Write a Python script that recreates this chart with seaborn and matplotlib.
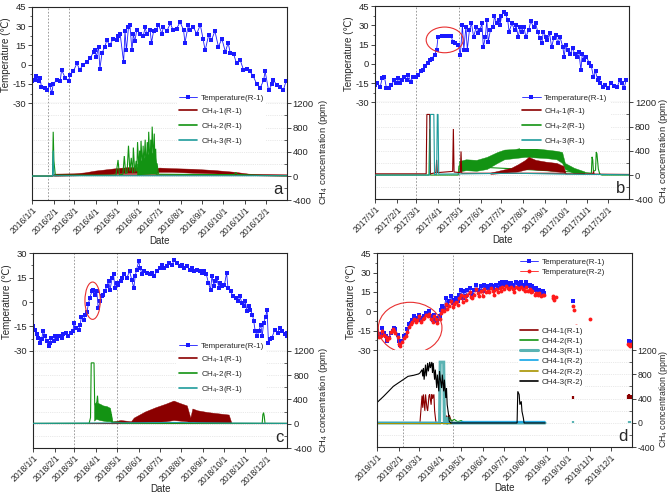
import numpy as np
import pandas as pd
import matplotlib
matplotlib.use('Agg')
import matplotlib.pyplot as plt
import matplotlib.dates as mdates
from matplotlib.lines import Line2D
from matplotlib.patches import Ellipse
from matplotlib.ticker import MultipleLocator, FuncFormatter
import seaborn as sns

# values: (day of year, value) or (day, low, high) for dense bands

# --- panel a, 2016 ---
a_temp = [(0, -13), (4, -12), (6, -9), (9, -13), (11, -10), (13, -17), (18, -18), (21, -20), (25, -16), (28, -22),
          (30, -15), (35, -12), (40, -13), (42, -4), (47, -10), (52, -13), (54, -8), (59, -5), (64, 1), (68, -4),
          (73, 0), (78, 2), (83, 5), (88, 10), (90, 11), (92, 6), (95, 14), (97, -3), (100, 9), (104, 14),
          (107, 19), (111, 15), (116, 20), (121, 19), (123, 22), (126, 24), (131, 2), (133, 26), (135, 11), (138, 29),
          (140, 31), (143, 11), (145, 24), (147, 18), (150, 27), (155, 24), (159, 22), (162, 29), (164, 24), (169, 27),
          (171, 17), (174, 26), (178, 27), (181, 31), (186, 24), (188, 29), (193, 26), (198, 32), (202, 27), (207, 28),
          (212, 33), (217, 27), (219, 17), (224, 31), (226, 27), (231, 29), (236, 24), (241, 31), (245, 20), (248, 11),
          (253, 23), (257, 19), (262, 26), (267, 14), (272, 20), (277, 10), (281, 17), (284, 9), (289, 8), (293, 1),
          (298, 4), (303, -4), (308, -3), (312, -5), (317, -9), (322, -15), (327, -18), (332, -12), (334, -5), (339, -20),
          (344, -15), (346, -12), (351, -16), (356, -17), (360, -20), (364, -13)]
a_ch4_1 = [(0, 0), (30, 0), (31, 20), (365, 15)]
a_ch4_1_band = [(31, 5, 40), (60, 10, 45), (75, 15, 60), (90, 25, 90), (105, 35, 110), (120, 45, 130), (140, 50, 150),
                (160, 50, 140), (178, 50, 130), (182, 70, 140), (200, 70, 130), (230, 55, 120), (260, 45, 100),
                (290, 30, 70), (310, 15, 40), (330, 10, 30), (365, 5, 25)]
a_ch4_2 = [(0, 0), (29, 0), (30, 730), (31, 250), (33, 15), (120, 15), (123, 265), (125, 20), (130, 30), (132, 330),
           (134, 40), (136, 60), (138, 500), (140, 80), (142, 300), (144, 50), (145, 470), (147, 60), (149, 250),
           (150, 80), (151, 560), (153, 100), (154, 420), (155, 120), (156, 580), (158, 90), (159, 500), (160, 150),
           (162, 600), (163, 100), (165, 560), (166, 120), (167, 730), (169, 150), (170, 600), (171, 180), (172, 815),
           (174, 200), (175, 700), (176, 150), (177, 450), (178, 80), (179, 210), (181, 30), (250, 25), (290, 25),
           (292, 60), (294, 25), (330, 10), (365, 5)]
a_ch4_2_band = [(150, 20, 200), (160, 30, 300), (170, 40, 400), (176, 40, 350), (179, 20, 80)]
a_ch4_3 = [(0, 0), (29, 0), (30, 420), (31, 0), (33, 5), (365, 5)]

# --- panel b, 2017 ---
b_temp = [(0, -16.5), (3, -15), (7, -18), (10, -11), (13, -10), (16, -19), (20, -19), (23, -16.5), (27, -12.6), (30, -15),
          (33, -11), (35, -15), (38, -12.6), (41, -10), (45, -12.6), (47, -8.7), (51, -14), (54, -10), (58, -10.5),
          (61, -8.7), (65, -6), (69, -5), (71, -2), (75, 0.4), (78, 3), (81, 4), (85, 7), (88, 11), (90, 21),
          (95, 21.6), (100, 22), (104, 21.6), (109, 22), (111, 17), (115, 16), (119, 15), (122, 7), (125, 30), (127, 11),
          (130, 29), (132, 11), (135, 26), (138, 31.5), (141, 21), (145, 29), (147, 24), (150, 26), (153, 31.5),
          (155, 13), (158, 21), (160, 34), (162, 17), (165, 26), (169, 29), (171, 37), (174, 31.5), (177, 34), (179, 30),
          (181, 37), (184, 40.6), (187, 39), (190, 34), (192, 25), (196, 31.5), (200, 26), (202, 30), (205, 21),
          (208, 29), (210, 25), (213, 29), (216, 21), (220, 26), (223, 33), (227, 29), (230, 31.5), (233, 25), (236, 20),
          (239, 16), (241, 25), (245, 21), (247, 18.5), (250, 23.7), (253, 13), (256, 20), (259, 22.4), (262, 16),
          (265, 21), (269, 13), (271, 5.5), (273, 14.6), (276, 11), (280, 8), (283, 12), (286, 8), (289, 5.5),
          (292, 9.4), (295, -5), (297, 8), (300, 3), (303, 5.5), (307, 0.4), (310, -2), (313, -10), (316, -6),
          (319, -12.6), (321, -11), (323, -15), (327, -18), (330, -16.5), (334, -19), (338, -15), (342, -17),
          (347, -18), (351, -12.6), (354, -15), (357, -19), (360, -12.6)]
b_ch4_1 = [(0, 20), (73, 20), (74, 1000), (78, 1000), (79, 20), (87, 40), (88, 250), (89, 40), (111, 60), (112, 760),
           (113, 50), (122, 40), (123, 390), (124, 30), (165, 30), (273, 30), (274, 20), (312, 20), (313, 60),
           (314, 15), (365, 10)]
b_ch4_1_band = [(165, 20, 40), (180, 30, 80), (195, 50, 120), (205, 60, 180), (215, 90, 250), (220, 100, 300),
                (230, 90, 250), (245, 80, 220), (260, 60, 200), (270, 50, 150), (273, 20, 30)]
b_ch4_2 = [(0, 0), (77, 0), (78, 760), (79, 0), (119, 0), (120, 150), (300, 40), (310, 30), (311, 300), (312, 250),
           (313, 60), (316, 80), (317, 380), (318, 350), (320, 100), (322, 20), (325, 0), (365, 0)]
b_ch4_2_band = [(120, 60, 230), (130, 80, 260), (145, 70, 250), (160, 100, 300), (175, 200, 380), (185, 260, 420),
                (200, 280, 430), (215, 300, 460), (230, 290, 440), (245, 280, 420), (260, 260, 400), (268, 200, 380),
                (272, 100, 200), (285, 30, 120), (300, 20, 60)]
b_ch4_3 = [(0, 0), (78, 0), (79, 1000), (84, 1000), (85, 10), (88, 10), (89, 1000), (90, 1000), (91, 15), (200, 30),
           (270, 15), (365, 5)]

# --- panel c, 2018 ---
c_temp = [(0, -15), (2, -17), (5, -20), (7, -22), (10, -25), (12, -23), (14, -18), (17, -21), (19, -24), (22, -27),
          (24, -25), (26, -22), (29, -24), (31, -21), (34, -23), (37, -21), (41, -22), (43, -20), (47, -19), (50, -21),
          (54, -19), (57, -18), (58, -13), (61, -16), (65, -17), (67, -14), (69, -9), (72, -11), (74, -8), (77, -6),
          (79, -1), (81, 2.5), (84, 6.6), (86, 7.6), (89, 4.5), (91, 6.6), (93, -3.7), (96, 0.4), (98, 3.5), (100, 4.5),
          (103, 6.6), (105, 9.7), (108, 12.7), (110, 7.6), (113, 14.8), (115, 17), (117, 8.6), (120, 11.7), (122, 10.7),
          (125, 12.7), (127, 14.8), (130, 17), (134, 14.8), (138, 19), (141, 13.8), (144, 8.6), (146, 15.8), (148, 20),
          (151, 25), (153, 21), (156, 17), (159, 19), (163, 18), (167, 17), (170, 18), (173, 15.8), (177, 19), (181, 21),
          (184, 23), (188, 21), (192, 22), (195, 24), (199, 23), (202, 26), (206, 24), (210, 22), (213, 23), (216, 21),
          (220, 22), (224, 20), (227, 21), (231, 19), (235, 20), (239, 19), (242, 18), (245, 19), (248, 17),
          (251, 11.7), (254, 7.6), (256, 15.8), (259, 9.7), (261, 12.7), (263, 14.8), (266, 8.6), (268, 11.7),
          (271, 9.7), (274, 10.7), (277, 18), (279, 8.6), (283, 6.6), (286, 3.5), (290, 2.5), (293, 0.4), (296, 3.5),
          (299, -0.6), (302, -2.7), (304, 0.4), (306, -5.8), (309, -2.7), (311, -4.7), (314, -7.8), (316, -12),
          (318, -18), (321, -21), (323, -18), (326, -14), (328, -21), (330, -13), (333, -9), (335, -4.7), (337, -25),
          (339, -23), (342, -22), (346, -17), (350, -19), (353, -16), (357, -18), (360, -20), (363, -19), (364, -21)]
c_ch4_1 = [(0, 5), (365, 5)]
c_ch4_1_band = [(112, 5, 30), (125, 10, 60), (140, 10, 40), (144, 10, 100), (160, 20, 200), (175, 30, 270),
                (190, 40, 330), (201, 60, 380), (210, 50, 340), (220, 40, 300), (225, 20, 100), (228, 30, 250),
                (235, 20, 220), (250, 20, 190), (265, 20, 170), (280, 15, 150), (284, 5, 10)]
c_ch4_2 = [(0, 5), (80, 5), (82, 100), (83, 1000), (87, 1000), (88, 300), (91, 350), (92, 460), (93, 300), (112, 150),
           (113, 30), (125, 20), (126, 5), (328, 5), (329, 150), (330, 180), (331, 120), (332, 5), (365, 5)]
c_ch4_2_band = [(87, 50, 300), (90, 80, 350), (95, 60, 330), (100, 50, 300), (105, 40, 290), (110, 40, 260),
                (113, 20, 50)]
c_ch4_3 = [(0, 5), (150, 15), (200, 20), (280, 10), (365, 5)]

# --- panel d, 2019 ---
d_temp_r1 = [(0, -15.5), (2, -19), (5, -17.6), (7, -13), (10, -17), (12, -19), (14, -23), (17, -20.7), (19, -17),
             (22, -15.5), (24, -13), (26, -14), (29, -18), (31, -23), (33, -26), (36, -23), (38, -19), (41, -18),
             (43, -14), (45, -10), (48, -9), (50, -6.5), (53, -4), (55, -6.5), (57, -5), (60, -2.6), (62, -6.5),
             (65, -5), (67, -4), (69, -1.3), (72, -2.6), (74, 0), (77, -4), (79, -6.5), (81, -2.6), (84, -5), (86, -7.8),
             (89, -4), (91, 1.3), (93, 3.9), (96, 2.6), (98, 10), (100, 5), (103, 7.8), (105, 11.6), (108, 6.5),
             (110, 9), (112, 10), (115, 7.8), (117, 13), (120, 16.8), (122, 10), (124, 15.5), (127, 11.6), (129, 16.8),
             (132, 18), (134, 14), (136, 13), (139, 16.8), (141, 20.7), (144, 16.8), (146, 15.5), (148, 19.4),
             (151, 15.5), (153, 20.7), (156, 18), (158, 19.4), (160, 18), (163, 20.7), (165, 19.4), (167, 16.8),
             (170, 20.7), (172, 18), (175, 22), (177, 19.4), (179, 23), (182, 20.7), (184, 23), (187, 22), (189, 20.7),
             (191, 22), (194, 20.7), (196, 18), (199, 23), (201, 22), (203, 20.7), (206, 23), (208, 20.7), (211, 19.4),
             (213, 23), (215, 19.4), (218, 20.7), (220, 18), (222, 19.4), (225, 16.8), (227, 18), (230, 15.5),
             (232, 16.8), (234, 14), (237, 15.5), (239, 14)]
d_temp_r2 = [(0, -17), (2, -20), (5, -19), (7, -15), (10, -18), (12, -20), (14, -22), (17, -21), (19, -16), (22, -14),
             (24, -15), (26, -17), (29, -20), (31, -25), (33, -27), (36, -24), (38, -21), (41, -19), (43, -16),
             (45, -12), (48, -10), (50, -8), (53, -6), (55, -8), (57, -7), (60, -4), (62, -8), (65, -6), (67, -5),
             (69, -3), (72, -4), (74, -2), (77, -6), (79, -8), (81, -4), (84, -6), (86, -9), (89, -6), (91, -1), (93, 1),
             (96, 0), (98, 6), (100, 2), (103, 4), (105, 8), (108, 3), (110, 6), (112, 7), (115, 5), (117, 10),
             (120, 13), (122, 7), (124, 12), (127, 9), (129, 13), (132, 15), (134, 11), (136, 10), (139, 13), (141, 17),
             (144, 14), (146, 12), (148, 16), (151, 12), (153, 17), (156, 15), (158, 16), (160, 15), (163, 18),
             (165, 16), (167, 13), (170, 17), (172, 15), (175, 18), (177, 16), (179, 19), (182, 17), (184, 20),
             (187, 18), (189, 17), (191, 19), (194, 17), (196, 15), (199, 19), (201, 18), (203, 17), (206, 19),
             (208, 17), (211, 16), (213, 19), (215, 16), (218, 17), (220, 15), (222, 16), (225, 13), (227, 14),
             (230, 13), (232, 14), (234, 12), (237, 13), (239, 13)]
d_temp_r1_sparse = [(280, 8), (360, -23), (362, -24)]
d_temp_r2_sparse = [(251, 12), (252, 10), (253, 9), (255, 11), (280, 4), (281, 1), (284, -11), (304, -6),
                    (359, -25), (360, -26), (361, -27), (363, -25)]
d_ch4_1_r1 = [(0, 0), (61, 0), (63, 300), (64, 450), (65, 250), (66, 470), (68, 200), (69, 470), (71, 250), (72, 200),
              (74, 450), (75, 470), (77, 300), (78, 470), (79, 400), (81, 470), (82, 200), (84, 0), (97, 0), (99, 120),
              (101, 80), (103, 130), (105, 60), (108, 0), (240, 0)]
d_ch4_1_r1_iso = [(280, 400, 450), (359, 400, 460), (360, 390, 470), (361, 410, 450), (362, 400, 465),
                  (363, 395, 455), (364, 405, 440)]
d_ch4_2_r1 = [(0, 0), (96, 0), (98, 100), (100, 40), (103, 90), (106, 30), (110, 60), (115, 20), (120, 40), (125, 0),
              (240, 0)]
d_ch4_3_r1 = [(0, 0), (89, 0), (90, 1000), (95, 1000), (96, 0), (99, 0), (100, 100), (101, 0), (240, 0)]
d_ch4_3_r1_iso = [(280, 0, 25), (360, 0, 25), (362, 0, 25)]
d_ch4_1_r2 = [(0, 0), (118, 0), (120, 15), (240, 15)]
d_ch4_1_r2_band = [(120, 5, 28), (240, 5, 28)]
d_ch4_2_r2 = [(0, 0), (105, 0)]
d_ch4_3_r2 = [(0, 340), (9, 438), (16, 520), (23, 603), (30, 658), (37, 712), (44, 767), (52, 784), (59, 806),
              (61, 822), (64, 877), (65, 767), (66, 904), (67, 712), (69, 959), (70, 767), (72, 986), (73, 849),
              (75, 1003), (76, 904), (78, 1003), (79, 822), (80, 986), (82, 712), (83, 877), (85, 575), (86, 795),
              (88, 520), (89, 849), (90, 740), (92, 575), (93, 795), (95, 520), (96, 712), (98, 411), (99, 575),
              (100, 301), (102, 137), (103, 28), (105, 0), (200, 0), (201, 520), (203, 466), (204, 301), (206, 356),
              (207, 192), (209, 82), (210, 0), (240, 0)]

sns.set_theme(style='ticks')
plt.rcParams['font.family'] = ['Liberation Sans', 'DejaVu Sans']
plt.rcParams['mathtext.default'] = 'regular'
plt.rcParams['axes.unicode_minus'] = False
plt.rcParams['axes.linewidth'] = 0.8

W, H = 670, 496
RED, GREEN, TEAL = '#8b0000', '#139313', '#1f9c9c'
BLUE_T, RED_T = '#1a1aff', '#ff1a1a'

fig = plt.figure(figsize=(W / 100, H / 100), dpi=100)


def dates(year, days):
    return pd.Timestamp(f'{year}-01-01') + pd.to_timedelta(np.asarray(days, dtype=float), unit='D')


def rect(l, t, r, b):
    return [l / W, 1 - b / H, (r - l) / W, (b - t) / H]


def fmt_date(v, pos):
    d = mdates.num2date(v)
    return f'{d.year}/{d.month}/{d.day}'


def temp_line(ax, year, pairs, color, marker):
    df = pd.DataFrame(pairs, columns=['day', 'temp'])
    df['date'] = dates(year, df['day'])
    sns.lineplot(data=df, x='date', y='temp', ax=ax, color=color, lw=0.6, marker=marker, markersize=2.8,
                 markeredgewidth=0, estimator=None, sort=False, legend=False)


def line(ax, year, pairs, color, lw=0.8, z=2):
    d, v = zip(*pairs)
    ax.plot(dates(year, d), v, color=color, lw=lw, zorder=z, solid_joinstyle='miter')


def band(ax, year, triples, color, z=2, alpha=1.0):
    d, lo, hi = zip(*triples)
    ax.fill_between(dates(year, d), lo, hi, color=color, lw=0.3, zorder=z, alpha=alpha)


def panel(box, year, t_lim, t_step, marks, letter, rsize=6.8):
    l, t, m, r, b = box
    ax_t = fig.add_axes(rect(l, t, r, m))
    ax_c = fig.add_axes(rect(l, m, r, b), sharex=ax_t)
    ax_c.set_xlim(pd.Timestamp(f'{year}-01-01'), pd.Timestamp(f'{year}-12-31'))

    ax_t.set_ylim(*t_lim)
    ax_t.yaxis.set_major_locator(MultipleLocator(t_step))
    ax_t.yaxis.set_minor_locator(MultipleLocator(t_step / 2))
    ax_t.tick_params(axis='y', which='major', direction='out', length=3, width=0.6, labelsize=6.8, pad=1.5)
    ax_t.tick_params(axis='y', which='minor', direction='out', length=1.5, width=0.5)
    ax_t.tick_params(axis='x', which='both', bottom=False, labelbottom=False)
    ax_t.spines['bottom'].set_color('#999999')
    ax_c.spines['top'].set_visible(False)

    ax_c.yaxis.tick_right()
    ax_c.yaxis.set_label_position('right')
    ax_c.set_ylim(-400, 1200)
    ax_c.yaxis.set_major_locator(MultipleLocator(400))
    ax_c.yaxis.set_minor_locator(MultipleLocator(200))
    ax_c.tick_params(axis='y', which='major', direction='out', length=3, width=0.6, labelsize=rsize, pad=1.2)
    ax_c.tick_params(axis='y', which='minor', direction='in', length=2, width=0.5)
    ax_c.grid(axis='y', which='both', color='#d4d4d4', ls=':', lw=0.5)
    ax_c.xaxis.set_major_locator(mdates.MonthLocator())
    ax_c.xaxis.set_major_formatter(FuncFormatter(fmt_date))
    ax_c.tick_params(axis='x', direction='out', length=3, width=0.6, labelsize=6.2, pad=1)
    plt.setp(ax_c.get_xticklabels(), rotation=45, ha='right', rotation_mode='anchor')

    for d in marks:
        for ax in (ax_t, ax_c):
            ax.axvline(dates(year, [d])[0], color='#8c8c8c', ls=(0, (2, 2)), lw=0.6, zorder=1)
    ax_c.text(0.985, 0.03, letter, transform=ax_c.transAxes, ha='right', va='bottom', fontsize=12)
    return ax_t, ax_c


def labels(ax_t, ax_c, right_x=1.118, right_size=6.8):
    ax_t.set_xlabel('')
    ax_t.set_ylabel('Temperature (℃)', fontsize=7)
    ax_t.yaxis.set_label_coords(-0.085, 0.5)
    ax_c.set_ylabel('CH$_4$ concentration (ppm)', fontsize=right_size)
    ax_c.yaxis.set_label_coords(right_x, 0.5)
    ax_c.set_xlabel('Date', fontsize=7)
    ax_c.xaxis.set_label_coords(0.5, -0.37)


def ellipse(ax, year, day, temp, w, h):
    cx = mdates.date2num(dates(year, [day])[0])
    ax.add_patch(Ellipse((cx, temp), w, h, fill=False, edgecolor='#e83030', lw=0.8, zorder=5, clip_on=False))


def put_legend(handles, labs, x, y, spacing):
    fig.legend(handles, labs, loc='upper left', bbox_to_anchor=(x, y), frameon=True, facecolor='white',
               edgecolor='none', framealpha=1, fancybox=False, fontsize=5.8, handlelength=2.3, handletextpad=0.45,
               labelspacing=spacing, borderpad=0.25, borderaxespad=0)


temp_handle = Line2D([], [], color=BLUE_T, lw=0.6, marker='s', ms=2.8, mew=0)
sub_labels = ['Temperature(R-1)', 'CH$_4$-1(R-1)', 'CH$_4$-2(R-1)', 'CH$_4$-3(R-1)']
sub_handles = [temp_handle, Line2D([], [], color=RED, lw=1.2), Line2D([], [], color=GREEN, lw=1.2),
               Line2D([], [], color=TEAL, lw=1.2)]

# panel a
ax_t, ax_c = panel((32.3, 6.7, 103.3, 286.7, 200.3), 2016, (-30, 45), 15, [23, 53], 'a')
temp_line(ax_t, 2016, a_temp, BLUE_T, 's')
band(ax_c, 2016, a_ch4_1_band, RED)
line(ax_c, 2016, a_ch4_1, RED)
band(ax_c, 2016, a_ch4_2_band, GREEN, z=3)
line(ax_c, 2016, a_ch4_2, GREEN, z=3)
line(ax_c, 2016, a_ch4_3, TEAL, z=4)
labels(ax_t, ax_c)
put_legend(sub_handles, sub_labels, 176.7 / W, 1 - 92 / H, 0.5)

# panel b
ax_t, ax_c = panel((375.3, 6.0, 102.3, 629.0, 199.3), 2017, (-30, 45), 15, [59, 120], 'b')
temp_line(ax_t, 2017, b_temp, BLUE_T, 's')
ellipse(ax_t, 2017, 99.5, 18.6, 53, 20)
band(ax_c, 2017, b_ch4_2_band, GREEN)
line(ax_c, 2017, b_ch4_2, GREEN)
band(ax_c, 2017, b_ch4_1_band, RED, z=3)
line(ax_c, 2017, b_ch4_1, RED, z=3)
line(ax_c, 2017, b_ch4_3, TEAL, z=4)
labels(ax_t, ax_c, 1.112)
put_legend(sub_handles, sub_labels, 520 / W, 1 - 92 / H, 0.5)

# panel c
ax_t, ax_c = panel((33.3, 253.3, 350.7, 287.3, 448.0), 2018, (-30, 30), 15, [58, 120], 'c')
temp_line(ax_t, 2018, c_temp, BLUE_T, 's')
ellipse(ax_t, 2018, 85, 0.8, 22, 23)
band(ax_c, 2018, c_ch4_1_band, RED)
line(ax_c, 2018, c_ch4_1, RED)
band(ax_c, 2018, c_ch4_2_band, GREEN, z=3)
line(ax_c, 2018, c_ch4_2, GREEN, z=3)
line(ax_c, 2018, c_ch4_3, TEAL, z=4)
labels(ax_t, ax_c)
put_legend(sub_handles, sub_labels, 176.7 / W, 1 - 340 / H, 0.5)

# panel d
ax_t, ax_c = panel((377.3, 253.3, 350.0, 631.7, 447.3), 2019, (-30, 45), 15, [37, 108], 'd', rsize=6.3)
temp_line(ax_t, 2019, d_temp_r1, BLUE_T, 's')
temp_line(ax_t, 2019, d_temp_r2, RED_T, 'o')
for pairs, c, mk in ((d_temp_r1_sparse, BLUE_T, 's'), (d_temp_r2_sparse, RED_T, 'o')):
    dd, vv = zip(*pairs)
    ax_t.plot(dates(2019, dd), vv, ls='none', marker=mk, ms=2.8, mew=0, color=c)
ellipse(ax_t, 2019, 47, -12.8, 91, 39.6)
LBLUE, OLIVE, TEAL_D = '#12a5e6', '#a89400', '#5ab3b3'
line(ax_c, 2019, d_ch4_1_r1, RED)
dd, lo, hi = zip(*d_ch4_1_r1_iso)
ax_c.vlines(dates(2019, dd), lo, hi, color=RED, lw=1.6)
line(ax_c, 2019, d_ch4_2_r1, GREEN)
line(ax_c, 2019, d_ch4_3_r1, TEAL_D, lw=2.2)
dd, lo, hi = zip(*d_ch4_3_r1_iso)
ax_c.vlines(dates(2019, dd), lo, hi, color=TEAL_D, lw=1.6)
band(ax_c, 2019, d_ch4_1_r2_band, LBLUE, alpha=0.6)
line(ax_c, 2019, d_ch4_1_r2, LBLUE)
line(ax_c, 2019, d_ch4_2_r2, OLIVE)
line(ax_c, 2019, d_ch4_3_r2, 'black')
labels(ax_t, ax_c, 1.1, 6.3)
put_legend([temp_handle, Line2D([], [], color=RED_T, lw=0.6, marker='o', ms=2.8, mew=0)],
           ['Temperature(R-1)', 'Temperature(R-2)'], 517.7 / W, 1 - 256 / H, 0.3)
d_cols = [RED, GREEN, TEAL_D, LBLUE, OLIVE, 'black']
d_lws = [1.2, 1.2, 2.2, 1.2, 1.2, 1.2]
put_legend([Line2D([], [], color=c, lw=w) for c, w in zip(d_cols, d_lws)],
           ['CH4-1(R-1)', 'CH4-2(R-1)', 'CH4-3(R-1)', 'CH4-1(R-2)', 'CH4-2(R-2)', 'CH4-3(R-2)'],
           517.7 / W, 1 - 325 / H, 0.32)

fig.savefig('out.png', dpi=100)
